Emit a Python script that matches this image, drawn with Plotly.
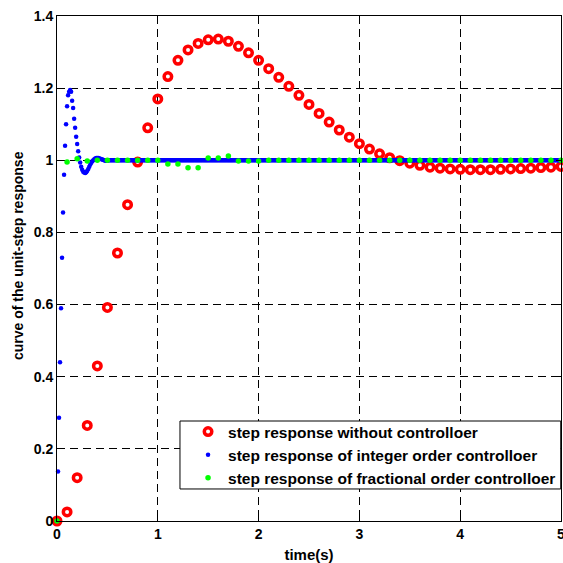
import plotly.graph_objects as go

# ---- data ----
t_red = [round(i * 0.1, 1) for i in range(51)]
red = [0.0, 0.025, 0.12, 0.265, 0.43, 0.592, 0.743, 0.877, 0.995, 1.09,
       1.17, 1.232, 1.277, 1.306, 1.324, 1.334, 1.336, 1.330, 1.316, 1.298,
       1.277, 1.254, 1.230, 1.205, 1.180, 1.155, 1.130, 1.106, 1.084, 1.064,
       1.046, 1.031, 1.018, 1.007, 0.999, 0.992, 0.986, 0.981, 0.978, 0.976,
       0.975, 0.974, 0.974, 0.974, 0.975, 0.976, 0.977, 0.978, 0.980, 0.981,
       0.983]

t_blue = [round(i * 0.01, 2) for i in range(501)]
blue_transient = [0.0, 0.137, 0.286, 0.44, 0.59, 0.73, 0.855, 0.96, 1.04, 1.10,
                  1.15, 1.18, 1.19, 1.195, 1.19, 1.165, 1.145, 1.115, 1.09, 1.065,
                  1.045, 1.025, 1.008, 0.994, 0.982, 0.974, 0.968, 0.966, 0.965, 0.967,
                  0.971, 0.976, 0.982, 0.988, 0.993, 0.997, 1.0, 1.003, 1.005, 1.006,
                  1.006, 1.006, 1.005, 1.004, 1.003, 1.002, 1.001, 1.0, 0.999, 0.999,
                  0.999]
blue_steady = [
    1, 1, 1, 1, 1, 1, 1, 1, 1, 1, 1, 1, 1, 1, 1, 1, 1, 1, 1, 1, 1, 1, 1, 1, 1, 1, 1, 1, 1, 1, 1, 1, 1, 1, 1, 1, 1, 1, 1, 1, 1, 1, 1, 1, 1, 1, 1, 1, 1, 1,
    1, 1, 1, 1, 1, 1, 1, 1, 1, 1, 1, 1, 1, 1, 1, 1, 1, 1, 1, 1, 1, 1, 1, 1, 1, 1, 1, 1, 1, 1, 1, 1, 1, 1, 1, 1, 1, 1, 1, 1, 1, 1, 1, 1, 1, 1, 1, 1, 1, 1,
    1, 1, 1, 1, 1, 1, 1, 1, 1, 1, 1, 1, 1, 1, 1, 1, 1, 1, 1, 1, 1, 1, 1, 1, 1, 1, 1, 1, 1, 1, 1, 1, 1, 1, 1, 1, 1, 1, 1, 1, 1, 1, 1, 1, 1, 1, 1, 1, 1, 1,
    1, 1, 1, 1, 1, 1, 1, 1, 1, 1, 1, 1, 1, 1, 1, 1, 1, 1, 1, 1, 1, 1, 1, 1, 1, 1, 1, 1, 1, 1, 1, 1, 1, 1, 1, 1, 1, 1, 1, 1, 1, 1, 1, 1, 1, 1, 1, 1, 1, 1,
    1, 1, 1, 1, 1, 1, 1, 1, 1, 1, 1, 1, 1, 1, 1, 1, 1, 1, 1, 1, 1, 1, 1, 1, 1, 1, 1, 1, 1, 1, 1, 1, 1, 1, 1, 1, 1, 1, 1, 1, 1, 1, 1, 1, 1, 1, 1, 1, 1, 1,
    1, 1, 1, 1, 1, 1, 1, 1, 1, 1, 1, 1, 1, 1, 1, 1, 1, 1, 1, 1, 1, 1, 1, 1, 1, 1, 1, 1, 1, 1, 1, 1, 1, 1, 1, 1, 1, 1, 1, 1, 1, 1, 1, 1, 1, 1, 1, 1, 1, 1,
    1, 1, 1, 1, 1, 1, 1, 1, 1, 1, 1, 1, 1, 1, 1, 1, 1, 1, 1, 1, 1, 1, 1, 1, 1, 1, 1, 1, 1, 1, 1, 1, 1, 1, 1, 1, 1, 1, 1, 1, 1, 1, 1, 1, 1, 1, 1, 1, 1, 1,
    1, 1, 1, 1, 1, 1, 1, 1, 1, 1, 1, 1, 1, 1, 1, 1, 1, 1, 1, 1, 1, 1, 1, 1, 1, 1, 1, 1, 1, 1, 1, 1, 1, 1, 1, 1, 1, 1, 1, 1, 1, 1, 1, 1, 1, 1, 1, 1, 1, 1,
    1, 1, 1, 1, 1, 1, 1, 1, 1, 1, 1, 1, 1, 1, 1, 1, 1, 1, 1, 1, 1, 1, 1, 1, 1, 1, 1, 1, 1, 1, 1, 1, 1, 1, 1, 1, 1, 1, 1, 1, 1, 1, 1, 1, 1, 1, 1, 1, 1, 1,
]
blue = blue_transient + blue_steady

t_green = [round(i * 0.1, 1) for i in range(51)]
green = [0.0, 0.995, 1.004, 0.998, 1.0, 1.0, 1.0, 1.0, 1.0, 1.0,
         1.0, 0.99, 0.99, 0.979, 0.979, 1.006, 1.006, 1.012, 0.998, 0.998,
         0.998, 1.0, 1.0, 1.0, 1.0, 1.0, 1.0, 1.0, 1.0, 1.0,
         1.0, 1.0, 1.0, 1.0, 1.0, 1.0, 1.0, 1.0, 1.0, 1.0,
         1.0, 1.0, 1.0, 1.0, 1.0, 1.0, 1.0, 1.0, 1.0, 1.0,
         1.0]

names = ["step response without controlloer",
         "step response of integer order controlloer",
         "step response of fractional order controlloer"]

x_ticks = [0, 1, 2, 3, 4, 5]
y_ticks = [0, 0.2, 0.4, 0.6, 0.8, 1.0, 1.2, 1.4]
y_ticktext = ["0", "0.2", "0.4", "0.6", "0.8", "1", "1.2", "1.4"]

x_title = "time(s)"
y_title = "curve of the unit-step response"

FONT = "Liberation Sans, Arial, sans-serif"

fig = go.Figure()
fig.add_trace(go.Scatter(
    x=t_red, y=red, mode="markers", name=names[0], cliponaxis=False,
    marker=dict(symbol="circle-open", size=7.5, color="#ff0000",
                line=dict(width=3.5, color="#ff0000"))))
fig.add_trace(go.Scatter(
    x=t_blue, y=blue, mode="markers", name=names[1], cliponaxis=False,
    marker=dict(symbol="circle", size=4.5, color="#0000ff")))
fig.add_trace(go.Scatter(
    x=t_green, y=green, mode="markers", name=names[2], cliponaxis=False,
    marker=dict(symbol="circle", size=5.5, color="#00ff00")))

axis_common = dict(
    showline=True, linecolor="black", linewidth=1, mirror="ticks",
    ticks="inside", ticklen=5, tickcolor="black", tickwidth=1,
    showgrid=True, gridcolor="black", gridwidth=1, griddash="8px,5px",
    zeroline=False, ticklabeloverflow="allow", automargin=False,
    tickfont=dict(family=FONT, size=14, color="black", weight="bold"),
)

fig.update_layout(
    width=563, height=563,
    margin=dict(l=57, r=2, t=16, b=42),
    paper_bgcolor="white", plot_bgcolor="white",
    font=dict(family=FONT, color="black"),
    xaxis=dict(range=[0, 5], tickvals=x_ticks,
               title=dict(text=x_title, standoff=9,
                          font=dict(family=FONT, size=15, color="black", weight="bold")),
               **axis_common),
    yaxis=dict(range=[0, 1.4], tickvals=y_ticks, ticktext=y_ticktext,
               **axis_common),
    annotations=[dict(text=y_title, textangle=-90, xref="paper", yref="paper",
                      x=-0.077, y=0.525, xanchor="center", yanchor="middle",
                      showarrow=False,
                      font=dict(family=FONT, size=14, color="black", weight="bold"))],
    legend=dict(x=0.26, xanchor="left", y=0.21, yanchor="top",
                bgcolor="rgba(0,0,0,0)", borderwidth=0,
                font=dict(family=FONT, size=15.5, color="black", weight="bold"),
                tracegroupgap=0),
    shapes=[dict(type="rect", xref="paper", yref="paper",
                 x0=0.244, x1=0.9995, y0=0.0634, y1=0.198,
                 fillcolor="white", line=dict(color="black", width=1),
                 layer="above")],
    showlegend=True,
)

fig.write_html("out.html")
